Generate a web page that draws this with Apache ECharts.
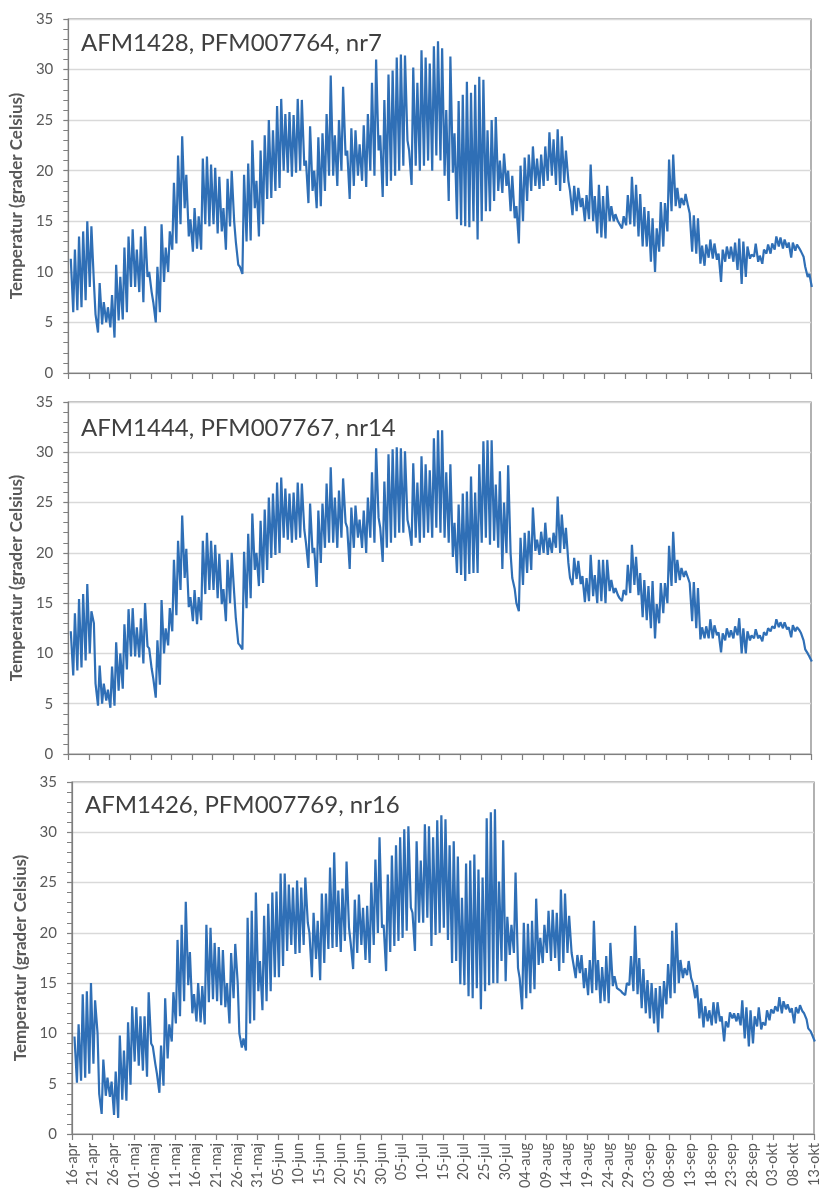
<!DOCTYPE html>
<html>
<head>
<meta charset="utf-8">
<title>Temperatur</title>
<script src="https://cdn.jsdelivr.net/npm/echarts@6/dist/echarts.min.js"></script>
<style>
  html, body { margin: 0; padding: 0; background: #ffffff; }
  #chart { width: 822px; height: 1194px; }
</style>
</head>
<body>
<div id="chart"></div>
<script>
// Date labels for every fifth day, starting 16-apr
const tickLabels = ['16-apr','21-apr','26-apr','01-maj','06-maj','11-maj','16-maj','21-maj','26-maj','31-maj',
  '05-jun','10-jun','15-jun','20-jun','25-jun','30-jun','05-jul','10-jul','15-jul','20-jul',
  '25-jul','30-jul','04-aug','09-aug','14-aug','19-aug','24-aug','29-aug','03-sep','08-sep',
  '13-sep','18-sep','23-sep','28-sep','03-okt','08-okt','13-okt'];

const titles = ['AFM1428, PFM007764, nr7', 'AFM1444, PFM007767, nr14', 'AFM1426, PFM007769, nr16'];
const yTitle = 'Temperatur (grader Celsius)';

// Logger AFM1428: early-morning and afternoon readings per day (°C), day 0 = 16-apr
const am1 = [null,6.0,6.2,6.5,7.2,8.5,9.0,4.0,4.8,5.0,
  4.5,3.5,5.2,5.3,6.0,8.5,8.5,8.0,7.0,9.5,
  8.0,5.0,6.0,9.0,10.0,12.2,12.8,14.7,16.3,13.5,
  12.0,12.3,12.2,14.7,14.5,14.7,13.8,14.0,12.2,14.5,
  15.0,10.7,9.8,13.0,13.1,16.3,13.5,14.7,17.2,17.3,
  18.0,18.3,20.0,19.8,19.4,19.8,20.0,20.5,16.8,18.0,
  16.3,16.5,18.0,19.5,19.5,18.5,20.0,21.5,17.2,18.5,
  19.5,19.0,18.4,20.0,19.5,22.0,17.4,18.5,19.0,19.5,
  20.0,20.5,23.0,18.6,20.5,20.0,20.5,21.0,20.0,21.5,
  21.0,19.5,17.0,19.8,15.2,14.6,14.5,14.4,15.0,13.2,
  15.0,16.0,16.0,17.0,18.0,17.8,18.5,16.0,15.3,12.8,
  15.0,17.0,18.0,18.5,18.2,18.5,19.0,19.5,18.6,18.0,
  18.8,19.0,15.6,16.0,16.4,15.0,15.2,15.0,13.8,13.4,
  13.3,15.0,15.0,15.0,14.3,14.6,14.7,14.5,13.5,12.5,
  12.5,11.0,10.0,12.0,12.5,14.0,16.0,16.5,16.3,16.6,
  16.5,12.0,11.8,10.8,10.6,11.4,11.3,11.2,9.0,11.0,
  11.3,11.0,10.2,8.8,9.5,11.3,11.5,11.0,10.8,11.8,
  11.8,12.2,12.5,12.3,12.4,11.4,12.1,12.3,11.5,9.5,
  8.5];
const pm1 = [11.3,12.2,13.5,14.0,15.0,14.5,5.8,8.9,7.0,6.5,
  7.7,10.7,9.5,12.4,13.5,14.2,12.2,13.5,14.5,10.0,
  7.0,10.5,14.7,12.4,14.0,18.8,21.5,23.4,19.6,15.2,
  16.3,15.5,21.2,21.4,20.6,20.3,19.4,16.3,19.2,20.0,
  13.0,10.5,19.6,20.7,23.0,19.0,22.0,23.5,25.0,24.0,
  26.4,27.1,25.6,25.8,25.5,27.1,27.0,21.0,24.4,20.0,
  23.3,23.7,25.6,29.4,23.5,25.0,28.3,22.0,24.2,24.0,
  22.6,24.5,25.6,28.7,31.0,23.5,27.0,29.5,29.9,31.2,
  31.5,31.4,22.0,30.2,28.7,31.9,31.2,30.6,32.3,32.8,
  32.1,26.0,31.3,23.7,26.9,27.5,28.8,27.7,28.5,29.3,
  29.0,24.0,25.0,25.3,21.0,21.7,20.0,19.5,16.5,20.5,
  21.3,21.6,22.4,21.2,21.6,22.4,23.8,23.1,24.1,23.4,
  22.0,18.0,18.5,18.3,17.3,17.6,20.6,17.5,18.6,17.5,
  18.5,16.5,15.7,15.0,15.5,17.6,19.4,18.6,17.7,16.4,
  16.0,15.3,14.3,16.9,16.8,21.1,21.6,18.3,17.3,17.7,
  15.8,15.6,15.3,12.6,12.7,13.2,12.8,11.8,12.2,12.5,
  12.5,12.9,13.3,13.0,12.5,11.7,12.8,11.6,12.2,12.7,
  12.8,13.5,13.4,13.2,12.9,12.9,12.7,12.0,10.5,9.8,
  null];

// Logger AFM1444
const am2 = [null,7.8,8.3,8.6,9.3,10.0,13.0,4.8,5.0,5.3,
  4.6,4.8,6.3,6.5,8.4,9.7,9.7,9.6,9.0,10.7,
  8.5,5.6,6.9,10.0,10.8,12.2,13.8,16.3,17.5,14.6,
  13.2,12.9,13.3,15.9,16.3,16.3,15.5,14.9,13.2,15.0,
  16.0,11.0,10.4,14.5,15.5,18.3,16.7,17.0,18.3,19.5,
  19.8,20.0,21.5,21.3,21.0,21.3,21.5,22.3,18.5,20.0,
  16.6,19.0,20.5,21.0,21.0,20.5,21.5,23.0,18.4,20.5,
  21.5,20.5,20.0,21.5,21.0,23.5,19.1,20.5,21.0,21.5,
  22.0,22.0,23.3,20.7,21.5,21.0,21.5,22.0,21.5,22.5,
  22.0,21.5,21.0,19.6,18.0,17.8,17.2,17.9,18.0,18.0,
  21.0,21.5,20.8,21.2,20.5,18.4,20.0,19.9,16.4,14.2,
  16.8,18.0,18.3,20.2,19.8,20.0,19.8,20.0,20.5,20.0,
  20.4,19.0,16.8,17.4,16.9,15.1,15.2,15.7,15.0,15.2,
  15.0,16.2,16.0,15.8,15.2,15.8,16.0,16.8,15.8,13.6,
  13.3,12.5,11.5,13.0,14.0,15.0,16.7,17.0,17.3,17.6,
  17.5,13.2,12.5,11.4,11.5,11.5,11.5,11.8,10.1,11.3,
  11.6,11.5,11.8,10.0,10.0,11.3,11.5,11.5,11.2,11.8,
  12.2,12.5,12.6,12.5,12.4,11.6,12.2,12.3,11.3,10.0,
  9.2];
const pm2 = [12.2,14.0,15.4,15.9,16.9,14.2,7.0,8.8,7.0,6.4,
  8.7,11.1,10.0,12.9,14.4,14.5,12.6,13.5,15.0,10.5,
  7.5,11.3,15.3,12.5,14.5,19.3,21.2,23.7,20.4,15.6,
  16.3,15.6,21.2,22.0,21.2,20.8,19.9,16.4,19.3,20.0,
  13.5,10.8,20.1,21.9,23.9,20.0,23.2,24.3,25.5,25.9,
  27.0,27.5,26.4,25.9,26.0,27.0,26.9,21.0,24.9,20.5,
  24.2,24.9,26.9,28.5,25.5,26.2,27.4,22.5,24.5,24.7,
  23.3,24.2,25.5,28.0,30.4,22.5,27.1,29.8,30.3,30.5,
  30.4,30.1,22.5,28.9,27.0,29.6,28.8,28.2,31.4,32.2,
  32.2,28.0,28.8,23.0,24.8,25.9,26.1,27.6,26.0,28.8,
  31.1,31.2,31.2,26.8,28.1,25.0,28.7,17.5,15.0,21.5,
  22.0,22.2,24.5,21.3,22.1,23.0,21.5,22.0,25.6,23.8,
  22.5,17.5,19.5,19.2,17.7,17.5,19.8,17.8,19.3,19.3,
  19.3,17.3,16.5,15.5,16.3,18.8,20.8,19.6,18.0,17.3,
  16.7,17.2,14.9,17.0,17.0,20.7,22.1,19.3,18.5,18.2,
  17.0,17.1,16.5,12.6,12.7,13.4,12.8,12.1,12.0,12.5,
  12.3,12.7,13.5,12.5,12.2,11.8,12.4,11.8,12.1,12.5,
  12.7,13.4,13.1,13.1,12.6,12.8,12.6,12.0,10.4,9.7,
  null];

// Logger AFM1426
const am3 = [null,5.1,5.3,5.6,6.0,7.0,10.0,2.0,3.8,3.7,
  1.9,1.6,3.4,3.3,4.9,7.2,6.8,6.3,5.7,9.0,
  7.0,4.1,4.8,7.5,9.2,11.0,11.7,13.2,14.8,12.0,
  11.2,11.1,10.9,13.1,13.4,13.2,12.8,12.6,11.0,13.5,
  15.0,8.6,8.3,11.0,11.3,14.2,12.3,13.2,14.2,15.6,
  15.6,16.7,18.2,18.8,17.9,18.0,18.8,21.0,15.6,17.4,
  15.3,17.0,18.4,18.5,18.6,18.1,19.2,20.5,16.4,18.0,
  18.8,17.3,17.0,18.8,20.0,20.5,16.2,18.1,18.7,19.2,
  19.5,20.2,22.5,18.2,21.0,21.0,21.5,18.7,19.8,20.0,
  20.5,19.3,17.0,17.2,14.9,14.8,13.7,13.5,14.5,12.4,
  14.2,14.8,15.0,15.0,17.2,15.2,17.8,18.0,16.5,12.4,
  13.5,14.0,14.4,16.8,17.0,18.0,17.2,17.5,16.2,17.0,
  18.0,18.0,15.5,16.0,14.5,13.8,14.0,14.3,13.0,13.2,
  13.0,14.7,14.5,14.2,13.8,14.8,14.2,13.9,12.5,12.0,
  11.5,11.0,10.1,11.5,12.9,13.5,14.0,15.0,15.5,15.8,
  15.5,13.5,11.5,10.6,11.2,10.8,11.0,11.2,9.2,10.6,
  11.5,11.2,10.8,9.5,8.7,9.0,10.7,10.4,10.8,11.3,
  12.0,12.2,12.0,12.4,12.1,11.0,12.0,12.2,11.4,10.2,
  9.2];
const pm3 = [9.7,10.9,13.9,14.2,15.0,13.3,4.0,7.4,5.6,5.2,
  6.2,9.8,8.3,11.1,12.7,12.6,11.7,11.7,14.1,8.7,
  6.0,8.8,13.5,10.9,14.1,19.3,20.8,23.1,18.1,13.9,
  15.0,14.7,20.8,20.5,19.0,18.6,18.3,15.0,18.0,18.9,
  10.0,9.5,21.5,22.2,24.0,17.2,21.7,22.9,24.0,24.1,
  25.9,25.9,24.8,24.5,25.2,24.5,25.5,20.0,22.0,21.2,
  23.9,23.9,26.5,28.0,24.2,24.4,27.1,19.0,23.3,23.8,
  22.5,22.7,25.0,27.3,29.5,20.8,25.8,27.7,28.7,29.5,
  30.3,30.6,22.0,29.1,27.2,30.8,30.6,29.5,31.2,31.7,
  31.3,28.7,29.1,27.6,23.5,26.9,27.2,27.8,26.3,25.5,
  31.4,32.0,32.3,25.1,29.2,21.6,20.8,26.0,15.5,21.0,
  20.9,21.2,23.4,19.5,20.8,22.2,22.3,22.0,24.3,23.9,
  21.7,17.0,17.8,17.8,16.5,17.3,21.2,17.3,16.6,17.7,
  19.0,15.7,14.5,14.0,15.0,17.7,20.7,17.5,16.4,15.3,
  15.0,14.5,14.7,15.2,16.9,20.2,21.0,17.3,16.5,17.2,
  15.0,14.8,13.5,12.7,12.3,13.1,13.1,11.7,11.2,12.1,
  12.0,12.0,13.3,12.6,12.3,11.7,12.6,11.1,12.3,12.4,
  12.7,13.6,13.2,12.9,12.5,12.6,12.8,12.0,10.5,9.8,
  null];

const FONT = 'Lato, "Open Sans", sans-serif';
const LINE_BLUE = '#2f6fb6';
const AXIS_GREY = '#7f7f7f';
const TEXT_GREY = '#595959';

// Morning reading sits early in the day, afternoon reading mid-afternoon
function dayPoints(am, pm) {
  const pts = [];
  for (let d = 0; d < am.length; d++) {
    if (am[d] != null) pts.push([d + 0.2, am[d]]);
    if (pm[d] != null) pts.push([d + 0.6, pm[d]]);
  }
  return pts;
}

const panels = [
  { am: am1, pm: pm1, grid: { left: 68, top: 19, width: 743, height: 354 }, titleY: 45 },
  { am: am2, pm: pm2, grid: { left: 68, top: 402, width: 743, height: 352 }, titleY: 430 },
  { am: am3, pm: pm3, grid: { left: 72, top: 782, width: 742, height: 352 }, titleY: 807 }
];

const grids = [], xAxes = [], yAxes = [], series = [], texts = [];
panels.forEach((p, i) => {
  grids.push(Object.assign({ show: true, borderColor: AXIS_GREY, borderWidth: 1.2, backgroundColor: '#ffffff' }, p.grid));
  const isLast = i === panels.length - 1;
  xAxes.push({
    type: 'value', gridIndex: i, min: 0, max: 180, interval: 5,
    axisLine: { show: true, onZero: false, lineStyle: { color: AXIS_GREY, width: 1.2 } },
    axisTick: { show: true, length: 6, lineStyle: { color: AXIS_GREY, width: 1.2 } },
    splitLine: { show: false },
    axisLabel: {
      show: isLast, rotate: 90, margin: 9, fontSize: 14.5, color: TEXT_GREY, fontFamily: FONT,
      showMinLabel: true, showMaxLabel: true,
      formatter: v => tickLabels[Math.round(v / 5)] || ''
    }
  });
  yAxes.push({
    type: 'value', gridIndex: i, min: 0, max: 35, interval: 5,
    name: yTitle, nameLocation: 'middle', nameGap: 42,
    nameTextStyle: { fontSize: 17, fontWeight: 'bold', color: TEXT_GREY, fontFamily: FONT },
    axisLine: { show: true, lineStyle: { color: AXIS_GREY, width: 1.2 } },
    axisTick: { show: true, length: 5, lineStyle: { color: AXIS_GREY, width: 1.2 } },
    minorTick: { show: true, splitNumber: 5, length: 5, lineStyle: { color: AXIS_GREY, width: 1 } },
    splitLine: { show: true, lineStyle: { color: '#d9d9d9', width: 1.3 } },
    axisLabel: { margin: 15, fontSize: 15, color: TEXT_GREY, fontFamily: FONT }
  });
  series.push({
    type: 'line', xAxisIndex: i, yAxisIndex: i,
    data: dayPoints(p.am, p.pm),
    showSymbol: false, symbol: 'none', smooth: false, sampling: 'none',
    lineStyle: { color: LINE_BLUE, width: 2.2 },
    itemStyle: { color: LINE_BLUE },
    silent: true, animation: false
  });
  texts.push({
    type: 'text', left: p.grid.left + 13, top: p.titleY - 14, z: 10,
    style: { text: titles[i], font: '24px ' + FONT, fill: '#404040' }
  });
});

const chart = echarts.init(document.getElementById('chart'), null, { renderer: 'canvas' });
chart.setOption({
  animation: false,
  backgroundColor: '#ffffff',
  grid: grids,
  xAxis: xAxes,
  yAxis: yAxes,
  series: series,
  graphic: texts
});
</script>
</body>
</html>
